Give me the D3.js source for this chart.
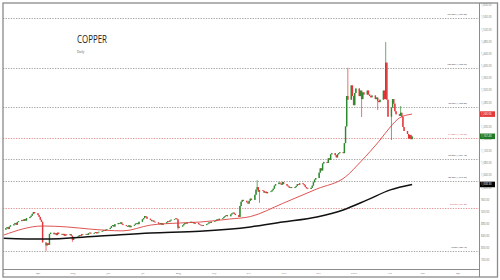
<!DOCTYPE html>
<html>
<head>
<meta charset="utf-8">
<script src="https://cdn.jsdelivr.net/npm/d3@7"></script>
<style>
  html, body { margin: 0; padding: 0; background: #fff; }
  svg { display: block; font-family: "Open Sans", sans-serif; }
</style>
</head>
<body>
<svg id="chart"></svg>
<script>
// daily closes, one row per week (Mon..Fri), starting Mon 4 Mar 2019
const firstDay = "2019-03-04";
const firstOpen = 860;
const closes = [
  865, 868, 862, 870, 874,
  878, 882, 876, 885, 888,
  892, 889, 895, 890, 898,
  902, 906, 912, 918, 914,
  908, 902, 893, 886, 818,
  808, 815, 810, 846, 850,
  845, 848, 842, 850, 846,
  843, 846, 840, 844, 842,
  845, 840, 826, 832, 836,
  838, 842, 840, 845, 844,
  846, 843, 848, 850, 847,
  849, 852, 848, 851, 853,
  855, 858, 856, 860, 862,
  866, 872, 875, 870, 878,
  882, 880, 884, 878, 875,
  872, 870, 874, 868, 873,
  876, 880, 882, 878, 886,
  894, 898, 905, 902, 896,
  892, 888, 890, 886, 884,
  880, 878, 882, 876, 880,
  884, 888, 886, 890, 893,
  895, 897, 894, 866, 870,
  874, 878, 882, 880, 884,
  886, 883, 885, 880, 882,
  878, 876, 874, 872, 875,
  878, 880, 884, 882, 886,
  888, 890, 894, 892, 896,
  898, 902, 905, 908, 904,
  910, 914, 916, 912, 908,
  902, 938, 952, 958, 955,
  950, 946, 955, 962, 958,
  975, 992, 1000, 985, 990,
  988, 982, 985, 980, 984,
  986, 990, 995, 1005, 1010,
  1015, 1012, 1008, 1017, 1010,
  1005, 1002, 998, 1000, 997,
  1000, 1004, 1010, 1008, 1013,
  1010, 1006, 1000, 996, 994,
  998, 1005, 1016, 1025, 1030,
  1048, 1062, 1055, 1078, 1083,
  1080, 1095, 1090, 1108, 1112,
  1105, 1098, 1108, 1112, 1115,
  1112, 1145, 1200, 1300, 1288,
  1335, 1300, 1270, 1310, 1325,
  1300, 1318, 1290, 1312, 1305,
  1318, 1305, 1300, 1296, 1302,
  1290, 1295, 1284, 1280, 1288,
  1318, 1290, 1410, 1288, 1232,
  1262, 1290, 1275, 1250, 1240,
  1235, 1245, 1232, 1198, 1185,
  1175, 1160, 1172, 1158, 1167
];

// days with long shadows: [date, high, low]
const wicks = [
  ["2019-04-08", null, 789.4],
  ["2019-05-01", null, 820],
  ["2019-08-01", null, 860],
  ["2019-10-09", 1023, null],
  ["2019-10-11", null, 948],
  ["2019-12-27", 1392.95, null],
  ["2020-01-08", null, 1231],
  ["2020-01-22", null, 1254],
  ["2020-01-29", 1478, null],
  ["2020-02-03", null, 1155],
  ["2020-02-11", 1267, null]
];

const maFast = [
  ["2019-03-02", 842], ["2019-04-05", 872], ["2019-04-26", 869],
  ["2019-05-16", 862], ["2019-06-14", 856], ["2019-07-08", 875],
  ["2019-08-03", 882], ["2019-08-20", 885], ["2019-09-15", 895],
  ["2019-10-03", 903], ["2019-10-31", 946], ["2019-11-30", 994],
  ["2019-12-25", 1034], ["2020-01-07", 1083], ["2020-01-24", 1155],
  ["2020-02-02", 1198], ["2020-02-10", 1228], ["2020-02-21", 1240.56]
];

const maSlow = [
  ["2019-03-02", 832], ["2019-04-05", 829], ["2019-05-25", 839],
  ["2019-07-08", 849], ["2019-08-20", 855], ["2019-10-03", 869],
  ["2019-10-31", 885], ["2019-11-30", 902], ["2019-12-23", 925],
  ["2020-01-13", 958], ["2020-02-02", 991], ["2020-02-21", 1008.9]
];

const fibLevels = [127.2, 100, 78.6, 61.8, 50, 38.2, 23.6, 0];
const fibPrices = [1557.20, 1392.95, 1263.80, 1162.39, 1091.18, 1019.96, 931.83, 789.40];

const yTicks = [760, 800, 840, 880, 920, 960, 1000, 1040, 1080, 1120, 1160, 1200,
  1240, 1280, 1320, 1360, 1400, 1440, 1480, 1520, 1560, 1600];
const monthTicks = ["2019-03-01", "2019-04-01", "2019-05-01", "2019-06-01", "2019-07-01",
  "2019-08-01", "2019-09-01", "2019-10-01", "2019-11-01", "2019-12-01",
  "2020-01-01", "2020-02-01", "2020-03-01", "2020-04-01"];

const lastValues = [1240.56, 1167.40, 1008.90];

const width = 500, height = 280;
const padLeft = 3, padTop = 3, plotRight = 479, plotBottom = 269, frameRight = 497.5, frameBottom = 277;
const upColor = "#2b8a2e", downColor = "#e5353a";
const boxColors = ["#e23a3a", "#1f7a25", "#000"];

const parse = d3.timeParse("%Y-%m-%d");
const key = d3.timeFormat("%Y-%m-%d");

// build candles
const start = parse(firstDay);
const wickMap = new Map(wicks.map(w => [w[0], w]));
const candles = closes.map((c, i) => {
  const date = d3.timeDay.offset(start, Math.floor(i / 5) * 7 + i % 5);
  const o = i === 0 ? firstOpen : closes[i - 1];
  const w = wickMap.get(key(date));
  return {
    date, open: o, close: c,
    high: w && w[1] != null ? w[1] : Math.max(o, c),
    low: w && w[2] != null ? w[2] : Math.min(o, c)
  };
});

// month starts fall at these pixels in the reference
const xBase = d3.scaleTime()
  .domain([parse("2019-04-01"), parse("2020-04-01")])
  .range([38, 458]);
const x = d3.scaleTime()
  .domain([xBase.invert(padLeft), xBase.invert(plotRight)])
  .range([padLeft, plotRight]);

const y = d3.scaleLinear()
  .domain([730.4, 1606.5])
  .range([plotBottom, padTop]);

const svg = d3.select("#chart")
  .attr("width", width)
  .attr("height", height)
  .attr("viewBox", [0, 0, width, height]);

svg.append("rect").attr("width", width).attr("height", height).attr("fill", "#fff");

svg.append("clipPath").attr("id", "plot")
  .append("rect")
  .attr("x", padLeft).attr("y", padTop)
  .attr("width", plotRight - padLeft).attr("height", plotBottom - padTop);

svg.append("clipPath").attr("id", "frame")
  .append("rect")
  .attr("x", padLeft + 0.5).attr("y", padTop)
  .attr("width", frameRight - padLeft).attr("height", frameBottom - padTop);

const plot = svg.append("g").attr("clip-path", "url(#plot)");

// fibonacci levels
const redLevels = [61.8, 23.6];
plot.append("g")
  .selectAll("line")
  .data(fibPrices)
  .join("line")
  .attr("x1", padLeft).attr("x2", plotRight)
  .attr("y1", d => Math.round(y(d)) + 0.5).attr("y2", d => Math.round(y(d)) + 0.5)
  .attr("stroke", (d, i) => redLevels.includes(fibLevels[i]) ? "#e08a8a" : "#9a9a9a")
  .attr("stroke-width", 0.9)
  .attr("stroke-dasharray", "1.3,1.3");

// candles
const cg = plot.append("g");
cg.selectAll("line")
  .data(candles)
  .join("line")
  .attr("x1", d => x(d.date)).attr("x2", d => x(d.date))
  .attr("y1", d => y(d.high)).attr("y2", d => y(d.low))
  .attr("stroke", d => d.close >= d.open ? upColor : downColor)
  .attr("stroke-width", 0.7);

cg.selectAll("rect")
  .data(candles)
  .join("rect")
  .attr("x", d => x(d.date) - 0.7)
  .attr("width", 1.4)
  .attr("y", d => y(Math.max(d.open, d.close)))
  .attr("height", d => Math.max(0.7, Math.abs(y(d.open) - y(d.close))))
  .attr("fill", d => d.close >= d.open ? upColor : downColor);

// moving averages
const line = d3.line()
  .x(d => x(parse(d[0])))
  .y(d => y(d[1]))
  .curve(d3.curveMonotoneX);

plot.append("path")
  .attr("d", line(maSlow))
  .attr("fill", "none")
  .attr("stroke", "#111")
  .attr("stroke-width", 1.5);

plot.append("path")
  .attr("d", line(maFast))
  .attr("fill", "none")
  .attr("stroke", "#d9423f")
  .attr("stroke-width", 0.9);

// fib labels
const fmt = d3.format(",.2f");
plot.append("g")
  .selectAll("text")
  .data(fibPrices)
  .join("text")
  .attr("x", 467)
  .attr("y", d => y(d) - 3)
  .attr("text-anchor", "end")
  .attr("font-size", 2.3)
  .attr("fill", (d, i) => redLevels.includes(fibLevels[i]) ? "#d0504e" : "#333")
  .text((d, i) => `${fibLevels[i].toFixed(2)}% (${fmt(d)})`);

// title
svg.append("text")
  .attr("x", 77).attr("y", 42.7)
  .attr("font-size", 10.3)
  .attr("fill", "#222")
  .attr("textLength", 30)
  .attr("lengthAdjust", "spacingAndGlyphs")
  .text("COPPER");

svg.append("text")
  .attr("x", 77).attr("y", 52.5)
  .attr("font-size", 3.2)
  .attr("fill", "#555")
  .text("Daily");

// axes
const yAxis = svg.append("g")
  .attr("transform", `translate(${plotRight},0)`)
  .call(d3.axisRight(y).tickValues(yTicks).tickSize(0).tickPadding(2).tickFormat(fmt))
  .call(g => g.select(".domain").remove());
yAxis.attr("font-size", 2.7).attr("font-family", null);
yAxis.selectAll("text").attr("fill", "#777");

const monthFmt = d => d.getMonth() === 0 ? d3.timeFormat("%Y")(d) : d3.timeFormat("%b")(d);
const xAxis = svg.append("g")
  .attr("clip-path", "url(#frame)")
  .attr("transform", `translate(0,${plotBottom + 1})`)
  .call(d3.axisBottom(x).tickValues(monthTicks.map(parse)).tickSize(0).tickPadding(2.4).tickFormat(monthFmt))
  .call(g => g.select(".domain").remove());
xAxis.attr("font-size", 2.7).attr("font-family", null);
xAxis.selectAll("text").attr("fill", "#777");

// last value boxes
const boxes = svg.append("g");
boxes.selectAll("rect")
  .data(lastValues)
  .join("rect")
  .attr("x", plotRight)
  .attr("y", d => y(d) - 2.8)
  .attr("width", 16)
  .attr("height", 5.6)
  .attr("fill", (d, i) => boxColors[i]);
boxes.selectAll("text")
  .data(lastValues)
  .join("text")
  .attr("x", plotRight + 2)
  .attr("y", d => y(d))
  .attr("dy", "0.35em")
  .attr("font-size", 2.7)
  .attr("fill", "#fff")
  .text(d => fmt(d));

// separators and frame
svg.append("line")
  .attr("x1", plotRight + 0.5).attr("x2", plotRight + 0.5)
  .attr("y1", padTop).attr("y2", frameBottom)
  .attr("stroke", "#8c8c8c").attr("stroke-width", 1);
svg.append("line")
  .attr("x1", padLeft).attr("x2", plotRight)
  .attr("y1", plotBottom + 0.5).attr("y2", plotBottom + 0.5)
  .attr("stroke", "#8c8c8c").attr("stroke-width", 1);
svg.append("rect")
  .attr("x", padLeft).attr("y", padTop)
  .attr("width", frameRight - padLeft).attr("height", frameBottom - padTop)
  .attr("fill", "none")
  .attr("stroke", "#8a8a8a")
  .attr("stroke-width", 1.3);
</script>
</body>
</html>
